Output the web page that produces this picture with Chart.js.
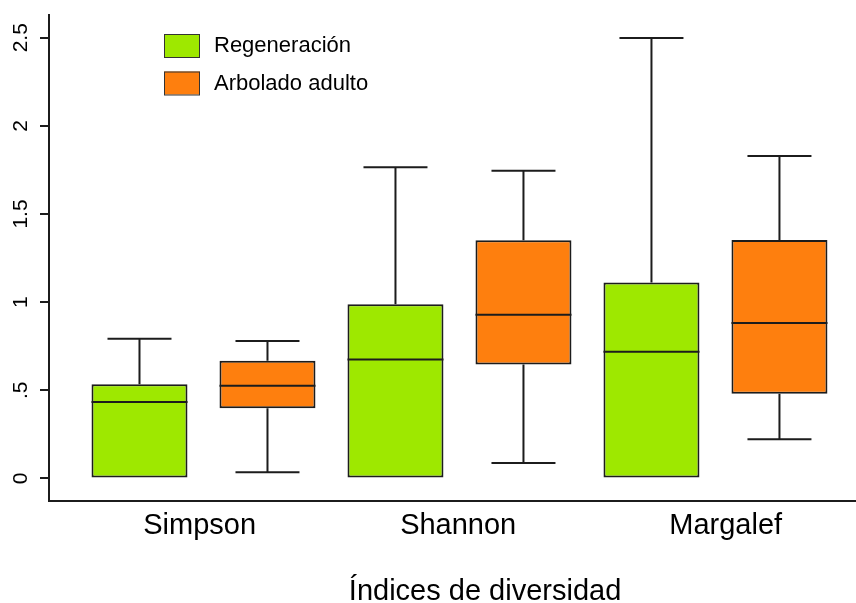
<!DOCTYPE html>
<html>
<head>
<meta charset="utf-8">
<script src="https://cdn.jsdelivr.net/npm/chart.js@4.4.1/dist/chart.umd.min.js"></script>
<style>
  html, body { margin: 0; padding: 0; background: #fff; }
  #wrap { width: 856px; height: 603px; }
</style>
</head>
<body>
<div id="wrap"><canvas id="boxChart" width="856" height="603"></canvas></div>
<script>
document.addEventListener('DOMContentLoaded', () => {

  // categories and groups
  const categories = ['Simpson', 'Shannon', 'Margalef'];
  const groupNames = ['Regeneración', 'Arbolado adulto'];

  // box positions on the x scale (like R's "at")
  const regPos = [1, 3, 5];
  const adPos = [2, 4, 6];

  // Regeneración: min, q1, median, q3, max
  const regMin = [0, 0, 0];
  const regQ1 = [0, 0, 0];
  const regMedian = [0.434, 0.674, 0.719];
  const regQ3 = [0.534, 0.988, 1.111];
  const regMax = [0.793, 1.765, 2.499];

  // Arbolado adulto: min, q1, median, q3, max
  const adMin = [0.035, 0.088, 0.222];
  const adQ1 = [0.398, 0.646, 0.481];
  const adMedian = [0.526, 0.929, 0.882];
  const adQ3 = [0.668, 1.351, 1.353];
  const adMax = [0.78, 1.746, 1.829];

  // ticks
  const yTicks = [0, 0.5, 1, 1.5, 2, 2.5];
  const yTickLabels = ['0', '.5', '1', '1.5', '2', '2.5'];
  const xLabelPos = [1.47, 3.49, 5.58];
  const xTitle = 'Índices de diversidad';
  const xTitlePos = 3.70;

  const FONT = "'Liberation Sans', Arial, sans-serif";
  const INK = '#1c1c1c';

  const stats = [
    { pos: regPos, min: regMin, q1: regQ1, med: regMedian, q3: regQ3, max: regMax },
    { pos: adPos, min: adMin, q1: adQ1, med: adMedian, q3: adQ3, max: adMax }
  ];

  // whiskers, medians, rotated y labels, x title and legend
  const boxExtras = {
    id: 'boxExtras',
    afterDatasetsDraw(chart) {
      const { ctx, scales: { x, y } } = chart;
      ctx.save();
      ctx.strokeStyle = INK;
      ctx.lineWidth = 2;
      stats.forEach((s, d) => {
        const bars = chart.getDatasetMeta(d).data;
        s.pos.forEach((p, i) => {
          const cx = x.getPixelForValue(p);
          const capL = x.getPixelForValue(p - 0.25);
          const capR = x.getPixelForValue(p + 0.25);
          ctx.beginPath();
          // upper whisker
          ctx.moveTo(cx, y.getPixelForValue(s.q3[i]));
          ctx.lineTo(cx, y.getPixelForValue(s.max[i]));
          ctx.moveTo(capL, y.getPixelForValue(s.max[i]));
          ctx.lineTo(capR, y.getPixelForValue(s.max[i]));
          // lower whisker
          if (s.min[i] < s.q1[i]) {
            ctx.moveTo(cx, y.getPixelForValue(s.q1[i]));
            ctx.lineTo(cx, y.getPixelForValue(s.min[i]));
            ctx.moveTo(capL, y.getPixelForValue(s.min[i]));
            ctx.lineTo(capR, y.getPixelForValue(s.min[i]));
          }
          ctx.stroke();
          // median
          const bar = bars[i];
          const my = y.getPixelForValue(s.med[i]);
          ctx.beginPath();
          ctx.moveTo(bar.x - bar.width / 2, my);
          ctx.lineTo(bar.x + bar.width / 2, my);
          ctx.stroke();
        });
      });
      ctx.restore();
    },
    afterDraw(chart) {
      const { ctx, chartArea, scales: { x, y } } = chart;
      ctx.save();
      ctx.fillStyle = '#000';

      // y tick labels, rotated
      ctx.font = '21px ' + FONT;
      ctx.textAlign = 'center';
      ctx.textBaseline = 'middle';
      yTicks.forEach((v, i) => {
        ctx.save();
        ctx.translate(21, y.getPixelForValue(v));
        ctx.rotate(-Math.PI / 2);
        ctx.fillText(yTickLabels[i], 0, 0);
        ctx.restore();
      });

      // x title
      ctx.font = '29px ' + FONT;
      ctx.textBaseline = 'alphabetic';
      ctx.fillText(xTitle, x.getPixelForValue(xTitlePos), 600);

      // legend
      ctx.font = '22px ' + FONT;
      ctx.textAlign = 'left';
      ctx.textBaseline = 'middle';
      chart.data.datasets.forEach((ds, i) => {
        const bx = chartArea.left + 115;
        const by = chartArea.top + 19 + i * 37.5;
        ctx.fillStyle = ds.backgroundColor;
        ctx.fillRect(bx, by, 36, 23);
        ctx.strokeStyle = '#333';
        ctx.lineWidth = 1;
        ctx.strokeRect(bx + 0.5, by + 0.5, 35, 23);
        ctx.fillStyle = '#000';
        ctx.fillText(ds.label, bx + 50, by + 12);
      });
      ctx.restore();
    }
  };

  const ctx = document.getElementById('boxChart').getContext('2d');

  new Chart(ctx, {
    type: 'bar',
    data: {
      datasets: [
        {
          label: groupNames[0],
          data: regPos.map((p, i) => ({ x: p, y: [regQ1[i], regQ3[i]] })),
          backgroundColor: '#9ee800',
          borderColor: INK,
          borderWidth: 2,
          borderSkipped: false
        },
        {
          label: groupNames[1],
          data: adPos.map((p, i) => ({ x: p, y: [adQ1[i], adQ3[i]] })),
          backgroundColor: '#fe7f0e',
          borderColor: INK,
          borderWidth: 2,
          borderSkipped: false
        }
      ]
    },
    options: {
      responsive: false,
      animation: false,
      devicePixelRatio: 1,
      layout: { padding: { top: 15, left: 0, right: 0, bottom: 0 } },
      datasets: {
        bar: { grouped: false, categoryPercentage: 1, barPercentage: 0.75 }
      },
      scales: {
        x: {
          type: 'linear',
          offset: false,
          min: 0.293,
          max: 6.598,
          grid: { display: false, drawTicks: false },
          border: { display: true, color: INK, width: 2 },
          afterBuildTicks: (scale) => { scale.ticks = xLabelPos.map(v => ({ value: v })); },
          afterFit: (scale) => { scale.height = 102; },
          ticks: {
            autoSkip: false,
            maxRotation: 0,
            padding: 8,
            color: '#000',
            font: { family: FONT, size: 29 },
            callback: (value, index) => categories[index]
          }
        },
        y: {
          type: 'linear',
          min: -0.128,
          max: 2.629,
          grid: { display: true, drawOnChartArea: false, drawTicks: true, tickLength: 9, color: INK, lineWidth: 2 },
          border: { display: true, color: INK, width: 2 },
          afterBuildTicks: (scale) => { scale.ticks = yTicks.map(v => ({ value: v })); },
          afterFit: (scale) => { scale.width = 49; },
          ticks: { display: false }
        }
      },
      plugins: {
        legend: { display: false },
        tooltip: { enabled: false }
      }
    },
    plugins: [boxExtras]
  });

});
</script>
</body>
</html>
